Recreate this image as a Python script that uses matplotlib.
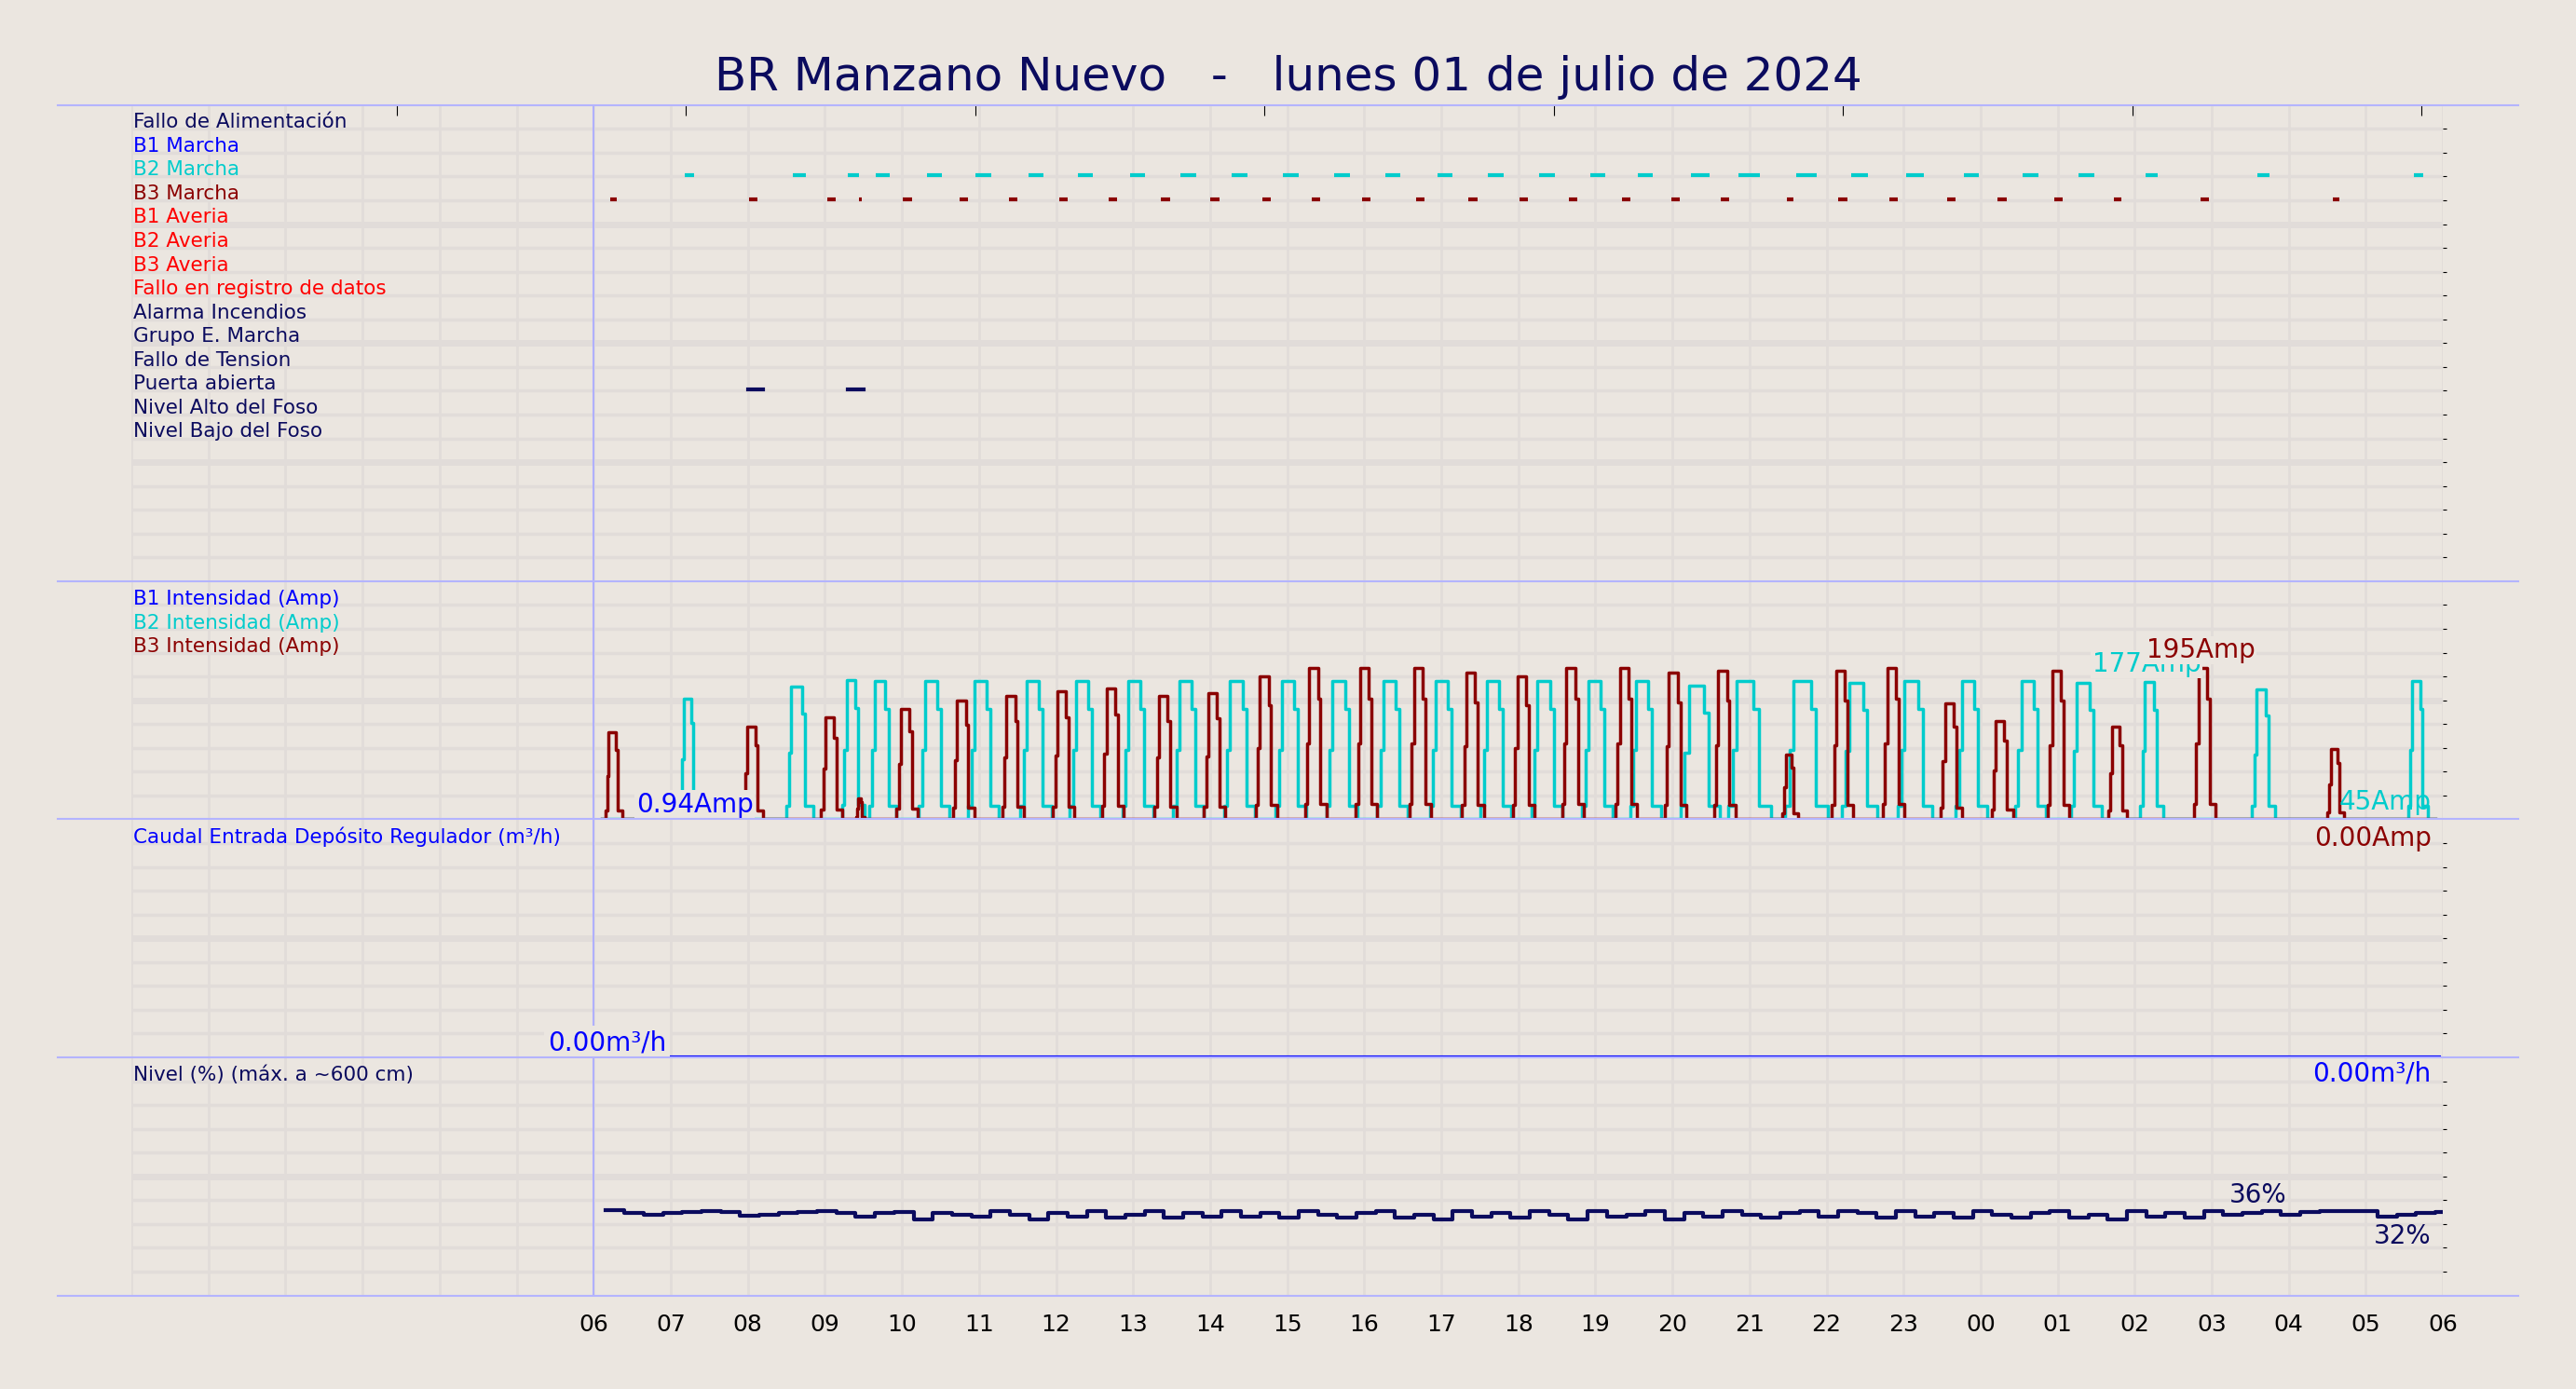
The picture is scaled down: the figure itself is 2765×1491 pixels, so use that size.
import matplotlib
matplotlib.use("Agg")
import matplotlib.pyplot as plt
from matplotlib.lines import Line2D
import numpy as np

BG = "#ebe6e0"
GRID = "#e1dcd9"
NAVY = "#0b0b5e"
CYAN = "#00cccc"
DRED = "#8b0000"

title = "BR Manzano Nuevo   -   lunes 01 de julio de 2024"
hour_labels = ["06","07","08","09","10","11","12","13","14","15","16","17","18","19",
               "20","21","22","23","00","01","02","03","04","05","06"]
signal_names = ["Fallo de Alimentación","B1 Marcha","B2 Marcha","B3 Marcha","B1 Averia",
                "B2 Averia","B3 Averia","Fallo en registro de datos","Alarma Incendios",
                "Grupo E. Marcha","Fallo de Tension","Puerta abierta","Nivel Alto del Foso",
                "Nivel Bajo del Foso"]
signal_colors = [NAVY,"blue",CYAN,DRED,"red","red","red","red",NAVY,NAVY,NAVY,NAVY,NAVY,NAVY]

# pump pulses: centre hour, peak amps, duration (h)
b2_centres = [7.24,8.67,9.37,9.75,10.42,11.06,11.74,12.38,13.06,13.72,14.38,15.05,15.71,16.37,
              17.05,17.71,18.37,19.03,19.65,20.36,21.0,21.74,22.43,23.15,23.88,24.65,25.37,
              26.22,27.67,29.68]
b2_peaks = [156,171,180,178,178,178,178,178,178,178,178,178,178,178,178,178,178,178,178,
            172,178,178,176,178,178,178,176,177,168,178]
b2_widths = [0.25,0.35,0.3,0.35,0.4,0.4,0.4,0.4,0.4,0.4,0.4,0.4,0.4,0.4,0.4,0.4,
             0.4,0.4,0.4,0.5,0.55,0.55,0.45,0.45,0.4,0.4,0.4,0.3,0.3,0.25]
b3_centres = [6.26,8.07,9.09,9.46,10.07,10.80,11.44,12.10,12.74,13.42,14.06,14.73,15.37,16.03,
              16.73,17.41,18.07,18.71,19.40,20.04,20.68,21.53,22.21,22.87,23.62,24.28,25.01,
              25.78,26.91,28.61]
b3_peaks = [112,119,131,27,142,153,159,165,169,159,163,184,195,195,195,189,184,195,195,189,
            191,83,191,195,150,127,191,119,195,91]
b3_widths = [0.22,0.25,0.28,0.1,0.28,0.28,0.28,0.28,0.28,0.28,0.28,0.28,0.28,0.28,0.28,0.28,
             0.28,0.28,0.28,0.28,0.28,0.2,0.28,0.28,0.28,0.28,0.28,0.25,0.28,0.22]
door_open = [(8.0,8.2),(9.3,9.5)]

level_t0 = 6.15
level_step = 0.25
level_vals = [36,34.5,34,34.5,35,35.5,35,33.5,34,34.5,35,35.5,34.5,33,34.5,35,32,34.5,
              34,33,35.5,34,32,34.5,33,35.5,32.5,34,35.5,32.5,34.5,33,35.5,33,34.5,32.5,
              35.5,34,32.5,34.5,35.5,32.5,34,32,35.5,33,34.5,32.5,35.5,34,32,35.5,33,34,
              35.5,32,34.5,33,35.5,34,32.5,34.5,35.5,33,35.5,34.5,32.5,35.5,33,34.5,32.5,
              35.5,34,32.5,34.5,35.5,32.5,34,32,35.5,33,34.5,32.5,35.5,34,34.5,35.5,34,
              35,35.5,35.5,35.5,33,34,34.5,35,35.5,36,34,32]

def pulse_series(centres, peaks, widths, t_start=6.1, t_end=29.9):
    xs, ys = [t_start], [0.0]
    for c, p, w in zip(centres, peaks, widths):
        t0 = c - w/2
        xs += [t0, t0+0.1*w, t0+0.2*w, t0+0.6*w, t0+0.72*w, t0+w]
        ys += [0.1*p, 0.5*p, p, 0.8*p, 0.1*p, 0.0]
    xs.append(t_end); ys.append(0.0)
    return np.array(xs), np.array(ys)

W, H = 2765, 1491
fig = plt.figure(figsize=(W/100, H/100), dpi=100, facecolor=BG)
L, R = 80/1568, 1487/1568
ys_px = [64, 354, 499, 644, 789]
def fy(p): return 1 - p/846

axes = []
for i in range(4):
    ax = fig.add_axes([L, fy(ys_px[i+1]), R-L, fy(ys_px[i]) - fy(ys_px[i+1])])
    ax.set_facecolor(BG)
    ax.set_xlim(0, 30)
    for s in ax.spines.values():
        s.set_visible(False)
    for h in range(0, 31):
        ax.axvline(h, color=GRID, lw=2, zorder=0)
    ax.tick_params(axis="x", bottom=False, labelbottom=False)
    axes.append(ax)

LFS = 15.5
a1 = axes[0]
a1.set_ylim(20, 0)
for r in range(1, 20):
    a1.axhline(r, color=GRID, lw=5 if r % 5 == 0 else 2.5, zorder=0)
a1.set_yticks(range(1, 20))
a1.yaxis.tick_right()
a1.tick_params(axis="y", length=3, labelright=False, color="black")
for i, (n, c) in enumerate(zip(signal_names, signal_colors)):
    a1.text(0.02, i + 0.72, n, color=c, fontsize=LFS, va="center", ha="left")
for c, w in zip(b2_centres, b2_widths):
    a1.plot([c - w/4, c + w/4], [2.95, 2.95], color=CYAN, lw=3, solid_capstyle="butt")
for c, w in zip(b3_centres, b3_widths):
    a1.plot([c - w/5, c + w/5], [3.95, 3.95], color=DRED, lw=3, solid_capstyle="butt")
for s, e in door_open:
    a1.plot([s, e], [11.95, 11.95], color=NAVY, lw=3)
topt = [3.44 + 3.755*k for k in range(8)]
a1.set_xticks(topt)
a1.tick_params(axis="x", top=True, bottom=False, labeltop=False, direction="in", length=8)
a1.axvline(6, color="#b0b0ff", lw=1.5, zorder=1)

a2 = axes[1]
a2.set_ylim(0, 307)
for r in range(1, 10):
    a2.axhline(r*30.7, color=GRID, lw=5 if r == 5 else 2.5, zorder=0)
a2.set_yticks([r*30.7 for r in range(1, 10)])
a2.yaxis.tick_right()
a2.tick_params(axis="y", length=3, labelright=False)
for i, (n, c) in enumerate(zip(["B1 Intensidad (Amp)","B2 Intensidad (Amp)","B3 Intensidad (Amp)"],
                                ["blue", CYAN, DRED])):
    a2.text(0.02, 307 - (i + 0.75)*30.7, n, color=c, fontsize=LFS, va="center")
x2, y2 = pulse_series(b2_centres, b2_peaks, b2_widths)
x3, y3 = pulse_series(b3_centres, b3_peaks, b3_widths)
a2.step(x2, y2, where="post", color=CYAN, lw=2.5, clip_on=False, zorder=3)
a2.step(x3, y3, where="post", color=DRED, lw=2.5, clip_on=False, zorder=4)
a2.axvline(6, color="#b0b0ff", lw=1.5, zorder=1)
a2.text(6.55, 19, "0.94Amp", color="blue", fontsize=20, va="center",
        bbox=dict(fc=BG, ec="none", pad=1), zorder=5)
a2.text(25.45, 200, "177Amp", color=CYAN, fontsize=20, va="center",
        bbox=dict(fc=BG, ec="none", pad=1), zorder=5)
a2.text(26.15, 218, "195Amp", color=DRED, fontsize=20, va="center",
        bbox=dict(fc=BG, ec="none", pad=1), zorder=6)
a2.text(29.85, 22, "45Amp", color=CYAN, fontsize=20, va="center", ha="right", zorder=5)

a3 = axes[2]
a3.set_ylim(0, 10)
for r in range(1, 10):
    a3.axhline(r, color=GRID, lw=5 if r == 5 else 2.5, zorder=0)
a3.set_yticks(range(1, 10))
a3.yaxis.tick_right()
a3.tick_params(axis="y", length=3, labelright=False)
a3.text(0.02, 9.25, "Caudal Entrada Depósito Regulador (m³/h)", color="blue", fontsize=LFS, va="center")
flow_t = [6.1, 29.95]
flow_v = [0.0, 0.0]
a3.plot(flow_t, flow_v, color="blue", lw=3, clip_on=False, zorder=3)
a3.axvline(6, color="#b0b0ff", lw=1.5, zorder=1)
a3.text(29.85, 9.2, "0.00Amp", color=DRED, fontsize=20, va="center", ha="right")
a3.text(6.17, 0.6, "0.00m³/h", color="blue", fontsize=20, va="center", ha="center",
        bbox=dict(fc=BG, ec="none", pad=3), zorder=5)

a4 = axes[3]
a4.set_ylim(0, 100)
for r in range(1, 10):
    a4.axhline(r*10, color=GRID, lw=5 if r == 5 else 2.5, zorder=0)
a4.set_yticks(range(10, 100, 10))
a4.yaxis.tick_right()
a4.tick_params(axis="y", length=3, labelright=False)
a4.text(0.02, 92.5, "Nivel (%) (máx. a ~600 cm)", color=NAVY, fontsize=LFS, va="center")
lt = level_t0 + level_step*np.arange(len(level_vals))
a4.step(lt, level_vals, where="post", color=NAVY, lw=3, zorder=3)
a4.axvline(6, color="#b0b0ff", lw=1.5, zorder=1)
a4.text(29.85, 93, "0.00m³/h", color="blue", fontsize=20, va="center", ha="right")
a4.text(27.6, 42, "36%", color=NAVY, fontsize=20, va="center", ha="center")
a4.text(29.85, 25, "32%", color=NAVY, fontsize=20, va="center", ha="right")
a4.set_xticks(range(6, 31))
a4.set_xticklabels(hour_labels, fontsize=18)
a4.tick_params(axis="x", bottom=True, labelbottom=True, length=0, pad=14)

for p in ys_px:
    fig.add_artist(Line2D([35/1568, 1533/1568], [fy(p), fy(p)], color="#b4b4ff", lw=1.5,
                          transform=fig.transFigure))

fig.text(0.5, fy(47), title, color=NAVY, fontsize=36, ha="center", va="center")
fig.savefig("out.png", dpi=100, facecolor=BG)
